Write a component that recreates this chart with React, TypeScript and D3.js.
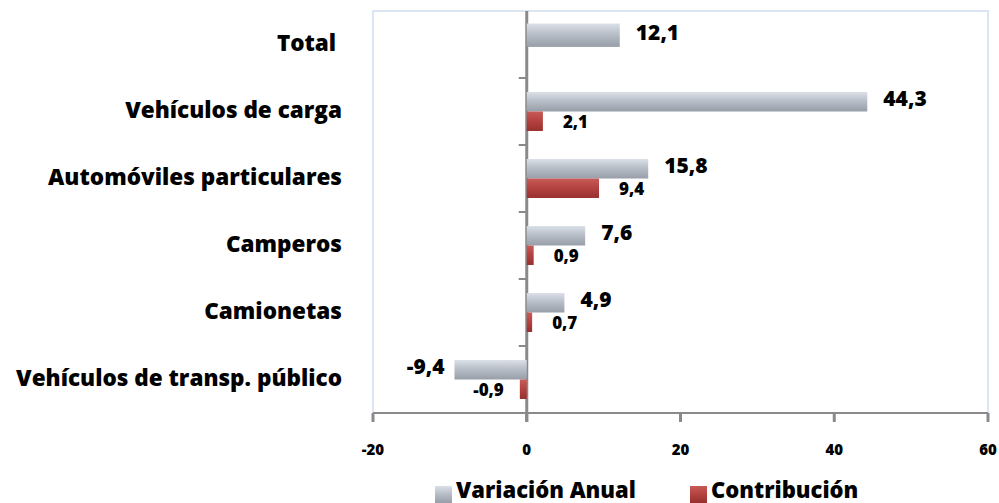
import * as React from 'react'
import * as d3 from 'd3'

const categories = [
  'Total ',
  'Vehículos de carga',
  'Automóviles particulares',
  'Camperos',
  'Camionetas',
  'Vehículos de transp. público',
]
const variacionAnual = [12.1, 44.3, 15.8, 7.6, 4.9, -9.4]
const contribucion: (number | null)[] = [null, 2.1, 9.4, 0.9, 0.7, -0.9]
const xTicks = [-20, 0, 20, 40, 60]
const seriesNames = ['Variación Anual', 'Contribución']

const W = 999
const H = 503
const FONT = '"Open Sans", Lato, sans-serif'

const fmt = (v: number) => v.toFixed(1).replace('.', ',')

const App: React.FC = () => {
  const x = d3.scaleLinear().domain([-20, 60]).range([373, 988])
  const y = d3.scaleBand<string>().domain(categories).range([11, 413])
  const sub = d3.scaleBand<string>().domain(['var', 'con']).range([0, y.bandwidth()]).paddingOuter(0.72)
  const x0 = x(0)
  const [top, bottom] = y.range()

  const rows = categories.map((c, i) => ({ c, v: variacionAnual[i], k: contribucion[i] }))

  return (
    <svg width={W} height={H} style={{ position: 'absolute', left: 0, top: 0, background: '#fff' }}>
      <defs>
        <linearGradient id="gGray" x1="0" y1="0" x2="0" y2="1">
          <stop offset="0%" stopColor="#dbe0e8" />
          <stop offset="45%" stopColor="#b9bfc8" />
          <stop offset="100%" stopColor="#979ea8" />
        </linearGradient>
        <linearGradient id="gRed" x1="0" y1="0" x2="0" y2="1">
          <stop offset="0%" stopColor="#c75a57" />
          <stop offset="50%" stopColor="#b3423f" />
          <stop offset="100%" stopColor="#97302e" />
        </linearGradient>
      </defs>

      {/* plot area border */}
      <path d={`M${x(-20)},${bottom} V${top} H${x(60)} V${bottom}`} fill="none" stroke="#dbe5f3" strokeWidth={2} />

      {/* x axis */}
      <line x1={x(-20)} x2={x(60)} y1={bottom} y2={bottom} stroke="#8a8a8a" strokeWidth={2} />
      {xTicks.map(t => (
        <g key={t}>
          <line x1={x(t)} x2={x(t)} y1={bottom} y2={bottom + 9} stroke="#8a8a8a" strokeWidth={3} />
          <text x={x(t)} y={451} textAnchor="middle" dominantBaseline="middle"
            fontFamily={FONT} fontWeight={800} fontSize={15} fill="#000">{t}</text>
        </g>
      ))}

      {/* zero axis with category ticks */}
      <line x1={x0} x2={x0} y1={top} y2={bottom + 9} stroke="#8a8a8a" strokeWidth={3} />
      {categories.slice(1).map(c => (
        <line key={c} x1={x0 - 8} x2={x0} y1={y(c)!} y2={y(c)!} stroke="#8a8a8a" strokeWidth={2} />
      ))}

      {/* category labels */}
      {rows.map(r => (
        <text key={r.c} x={342} y={y(r.c)! + y.bandwidth() / 2} textAnchor="end" dominantBaseline="middle"
          style={{ whiteSpace: 'pre' }}
          fontFamily={FONT} fontWeight={800} fontSize={22.5} fill="#000">{r.c}</text>
      ))}

      {/* bars */}
      {rows.map(r => {
        const by = y(r.c)!
        const only = r.k === null
        const gy = only ? by + sub('var')! - 1.5 : by + sub('var')!
        const gh = only ? sub.bandwidth() * 1.2 : sub.bandwidth()
        const ry = by + sub('con')!
        return (
          <g key={r.c}>
            <rect x={Math.min(x(r.v), x0)} y={gy} width={Math.abs(x(r.v) - x0)} height={gh} fill="url(#gGray)" />
            <text x={r.v >= 0 ? x(r.v) + 16 : x(r.v) - 10} y={gy + gh / 2 - 1}
              textAnchor={r.v >= 0 ? 'start' : 'end'} dominantBaseline="middle"
              fontFamily={FONT} fontWeight={800} fontSize={21} fill="#000">{fmt(r.v)}</text>
            {r.k !== null && (
              <>
                <rect x={Math.min(x(r.k), x0)} y={ry} width={Math.abs(x(r.k) - x0)} height={sub.bandwidth()} fill="url(#gRed)" />
                <text x={r.k >= 0 ? x(r.k) + 20 : x(r.k) - 16} y={ry + sub.bandwidth() / 2 + 2}
                  textAnchor={r.k >= 0 ? 'start' : 'end'} dominantBaseline="middle"
                  fontFamily={FONT} fontWeight={800} fontSize={17} fill="#000">{fmt(r.k)}</text>
              </>
            )}
          </g>
        )
      })}

      {/* legend */}
      <rect x={435} y={486} width={17} height={17} fill="url(#gGray)" />
      <text x={456} y={498} fontFamily={FONT} fontWeight={800} fontSize={22} fill="#000">{seriesNames[0]}</text>
      <rect x={690} y={486} width={17} height={17} fill="url(#gRed)" />
      <text x={711} y={498} fontFamily={FONT} fontWeight={800} fontSize={22} fill="#000">{seriesNames[1]}</text>
    </svg>
  )
}

export default App
